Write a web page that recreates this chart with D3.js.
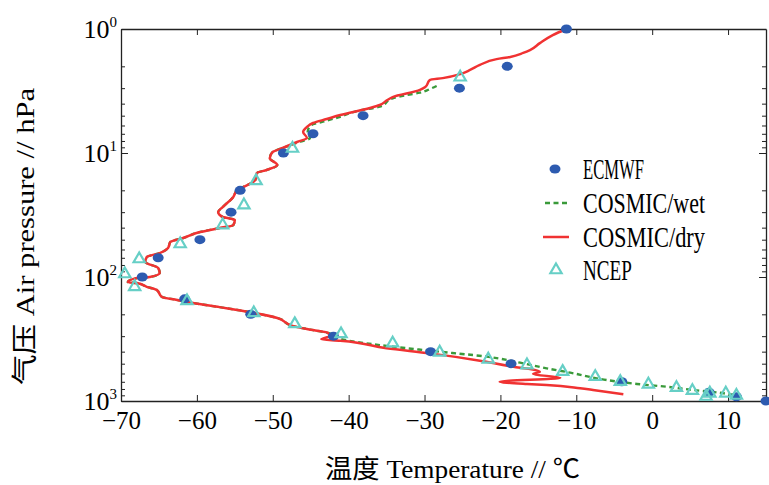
<!DOCTYPE html>
<html>
<head>
<meta charset="utf-8">
<script src="https://cdn.jsdelivr.net/npm/d3@7"></script>
<style>
body { margin: 0; background: #fff; }
text { font-family: "Liberation Serif", "Noto Sans CJK SC", serif; }
</style>
</head>
<body>
<div id="chart"></div>
<script>
// data: temperature (°C) and pressure (hPa)
var ecmwfT = [-11.3, -19.1, -25.4, -38.1, -44.7, -48.6, -54.3, -55.5, -59.6, -65.1, -67.2, -61.6, -52.9, -42.0, -29.2, -18.6, -4.0, 7.5, 11.1, 15.0];
var ecmwfP = [1, 2, 3, 5, 7, 10, 20, 30, 50, 70, 100, 150, 200, 300, 400, 500, 700, 850, 925, 1000];

var ncepT = [-25.3, -47.4, -52.2, -53.8, -56.6, -62.2, -67.6, -69.5, -68.2, -61.3, -52.5, -47.1, -41.0, -34.2, -28.0, -21.6, -16.5, -11.8, -7.5, -4.2, -0.5, 3.2, 5.3, 7.6, 7.1, 9.7, 11.1];
var ncepP = [2.45, 9.2, 16.8, 26.3, 38.1, 54.2, 71.6, 94.6, 120, 156, 195, 239, 288, 342, 405, 461, 513, 580, 637, 699, 733, 781, 826, 867, 920, 867, 903];

var dryT = [-11.3, -13.1, -14.8, -16.1, -17.0, -18.7, -20.5, -22.7, -24.0, -25.3, -27.6, -29.3, -29.9, -30.6, -34.2, -34.9,
  -35.9, -37.2, -41.1, -42.9, -44.7, -45.5, -46.0, -45.5, -46.8, -48.7, -50.0, -50.4, -49.4, -50.8, -52.1, -52.3,
  -53.9, -54.7, -55.2, -56.6, -57.2, -56.6, -55.0, -55.2, -57.0, -59.6, -61.8, -63.5, -63.8, -64.9, -66.6, -66.8,
  -65.1, -64.9, -66.2, -67.9, -69.1, -67.9, -66.6, -65.3, -64.6, -62.6, -60.5, -57.0, -53.0, -49.4, -47.3, -44.7,
  -42.7, -42.5, -43.6, -41.1, -35.0, -29.3, -22.7, -18.3, -16.1, -14.8, -15.7, -12.1, -20.1, -16.5, -13.9, -9.5, -7.8, -3.8];
var dryP = [1.0, 1.12, 1.30, 1.48, 1.56, 1.68, 1.75, 1.95, 2.14, 2.31, 2.49, 2.58, 2.94, 3.10, 3.54, 3.74,
  4.10, 4.34, 4.94, 5.32, 5.73, 6.17, 6.77, 7.57, 8.15, 9.11, 9.81, 11.0, 12.5, 13.7, 14.5, 16.5,
  18.8, 19.9, 22.6, 27.3, 29.9, 32.8, 34.7, 38.1, 40.3, 43.4, 48.5, 52.2, 58.4, 64.1, 69.0, 75.7,
  84.6, 92.8, 100, 102, 110, 112, 120, 127, 145, 153, 162, 175, 192, 214, 249, 268,
  283, 299, 318, 326, 376, 413, 473, 529, 552, 580, 606, 649, 699, 729, 743, 790, 815, 883];

var wetT = [-28.4, -29.1, -30.6, -32.4, -34.2, -35.9, -38.9, -41.1, -43.4, -44.9, -45.4, -45.1, -46.4,
  -48.7, -50.0, -50.4, -49.4, -50.8, -52.1, -52.3, -53.9, -54.7, -55.2, -56.6, -57.2, -56.6, -55.0, -55.2,
  -57.0, -59.6, -61.8, -63.5, -63.8, -64.9, -66.6, -66.8, -65.1, -64.9, -66.2, -67.9, -69.1, -67.9, -66.6,
  -65.3, -64.6, -62.6, -60.5, -57.0, -53.0, -49.4, -47.3, -44.7, -42.7,
  -41.1, -35.9, -29.3, -21.8, -17.4, -13.9, -10.8, -6.0, -2.0, 1.9, 5.4, 8.9, 11.6];
var wetP = [2.88, 3.01, 3.26, 3.41, 3.62, 4.23, 4.59, 5.10, 5.59, 5.95, 6.73, 7.61, 8.11,
  9.11, 9.81, 11.0, 12.5, 13.7, 14.5, 16.5, 18.8, 19.9, 22.6, 27.3, 29.9, 32.8, 34.7, 38.1,
  40.3, 43.4, 48.5, 52.2, 58.4, 64.1, 69.0, 75.7, 84.6, 92.8, 100, 102, 110, 112, 120,
  127, 145, 153, 162, 175, 192, 214, 249, 268, 283,
  316, 354, 393, 439, 491, 545, 591, 677, 729, 767, 815, 858, 920];

var xTicks = [-70, -60, -50, -40, -30, -20, -10, 0, 10];
var yTicks = [1, 10, 100, 1000];
var yExp = ["0", "1", "2", "3"];
var legendNames = ["ECMWF", "COSMIC/wet", "COSMIC/dry", "NCEP"];

var W = 769, H = 485;
var margin = {left: 121, right: 766, top: 29, bottom: 401};

var blue = "#2d5bb0", green = "#3a9a3a", red = "#f03232", cyan = "#66cfc6";

var svg = d3.select("#chart").append("svg")
  .attr("width", W).attr("height", H);

var x = d3.scaleLinear().domain([-70, 15]).range([margin.left, margin.right]);
var y = d3.scaleLog().domain([1, 1000]).range([margin.top, margin.bottom]);

// minor ticks for the log axis
var minor = [];
[1, 10, 100].forEach(function (b) {
  for (var k = 2; k <= 9; k++) minor.push(b * k);
});

function styleAxis(g) {
  g.selectAll("path").attr("stroke", "#222").attr("stroke-width", 1.3);
  g.selectAll("line").attr("stroke", "#222").attr("stroke-width", 1);
}

// bottom axis with labels
svg.append("g")
  .attr("transform", "translate(0," + margin.bottom + ")")
  .call(d3.axisBottom(x).tickValues(xTicks).tickSize(-6).tickSizeOuter(0).tickPadding(10))
  .call(styleAxis)
  .call(function (g) {
    g.selectAll("text").attr("fill", "#000").attr("font-size", 25)
      .attr("font-family", "Liberation Serif");
  });

// top axis, no labels
svg.append("g")
  .attr("transform", "translate(0," + margin.top + ")")
  .call(d3.axisTop(x).tickValues(xTicks).tickSize(-6).tickSizeOuter(0).tickFormat(""))
  .call(styleAxis);

// left and right axes, major + minor
[[d3.axisLeft, margin.left], [d3.axisRight, margin.right]].forEach(function (a) {
  svg.append("g")
    .attr("transform", "translate(" + a[1] + ",0)")
    .call(a[0](y).tickValues(yTicks).tickSize(-7).tickSizeOuter(0).tickFormat(""))
    .call(styleAxis);
  svg.append("g")
    .attr("transform", "translate(" + a[1] + ",0)")
    .call(a[0](y).tickValues(minor).tickSize(-4).tickSizeOuter(0).tickFormat(""))
    .call(styleAxis)
    .call(function (g) { g.select("path").remove(); });
});

// 10^n labels
var yl = svg.append("g").selectAll("text")
  .data(yTicks).enter().append("text")
  .attr("x", margin.left - 4)
  .attr("y", function (d) { return y(d) + 9; })
  .attr("text-anchor", "end")
  .attr("font-size", 26);
yl.append("tspan").text("10");
yl.append("tspan").attr("dy", -11).attr("font-size", 15)
  .text(function (d, i) { return yExp[i]; });

// COSMIC/wet (under), COSMIC/dry
var line = d3.line()
  .x(function (d) { return x(d[0]); })
  .y(function (d) { return y(d[1]); })
  .curve(d3.curveMonotoneY);

svg.append("path")
  .datum(d3.zip(wetT, wetP))
  .attr("fill", "none")
  .attr("stroke", green)
  .attr("stroke-width", 2.4)
  .attr("stroke-dasharray", "5,3.5")
  .attr("d", line);

svg.append("path")
  .datum(d3.zip(dryT, dryP))
  .attr("fill", "none")
  .attr("stroke", red)
  .attr("stroke-width", 2.5)
  .attr("d", line);

// ECMWF dots
svg.append("g").selectAll("ellipse")
  .data(d3.zip(ecmwfT, ecmwfP))
  .enter().append("ellipse")
  .attr("cx", function (d) { return x(d[0]); })
  .attr("cy", function (d) { return y(d[1]); })
  .attr("rx", 5.5).attr("ry", 4.5)
  .attr("fill", blue);

// NCEP triangles
var tri = d3.symbol().type(d3.symbolTriangle).size(55);
svg.append("g").selectAll("path")
  .data(d3.zip(ncepT, ncepP))
  .enter().append("path")
  .attr("d", tri)
  .attr("transform", function (d) { return "translate(" + x(d[0]) + "," + y(d[1]) + ")"; })
  .attr("fill", "none")
  .attr("stroke", cyan)
  .attr("stroke-width", 2.2);

// legend
var legY = [169, 203, 237, 270];
var leg = svg.append("g");
leg.append("ellipse").attr("cx", 555).attr("cy", legY[0]).attr("rx", 5.5).attr("ry", 4.5).attr("fill", blue);
leg.append("line").attr("x1", 545).attr("x2", 570).attr("y1", legY[1]).attr("y2", legY[1])
  .attr("stroke", green).attr("stroke-width", 2.4).attr("stroke-dasharray", "5,3.5");
leg.append("line").attr("x1", 543).attr("x2", 569).attr("y1", legY[2]).attr("y2", legY[2])
  .attr("stroke", red).attr("stroke-width", 2.5);
leg.append("path").attr("d", tri).attr("transform", "translate(556," + legY[3] + ")")
  .attr("fill", "none").attr("stroke", cyan).attr("stroke-width", 2.2);
leg.selectAll("text").data(legendNames).enter().append("text")
  .attr("x", 583)
  .attr("y", function (d, i) { return legY[i] + 10; })
  .attr("font-size", 29)
  .attr("textLength", function (d) { return d.length * 12.2; })
  .attr("lengthAdjust", "spacingAndGlyphs")
  .text(function (d) { return d; });

// axis titles
svg.append("text")
  .attr("x", 325).attr("y", 478)
  .attr("font-size", 26)
  .attr("textLength", 255)
  .attr("lengthAdjust", "spacingAndGlyphs")
  .text("温度 Temperature // ℃");

svg.append("text")
  .attr("transform", "translate(34,385) rotate(-90)")
  .attr("font-size", 26)
  .attr("textLength", 297)
  .attr("lengthAdjust", "spacingAndGlyphs")
  .text("气压 Air pressure // hPa");
</script>
</body>
</html>
